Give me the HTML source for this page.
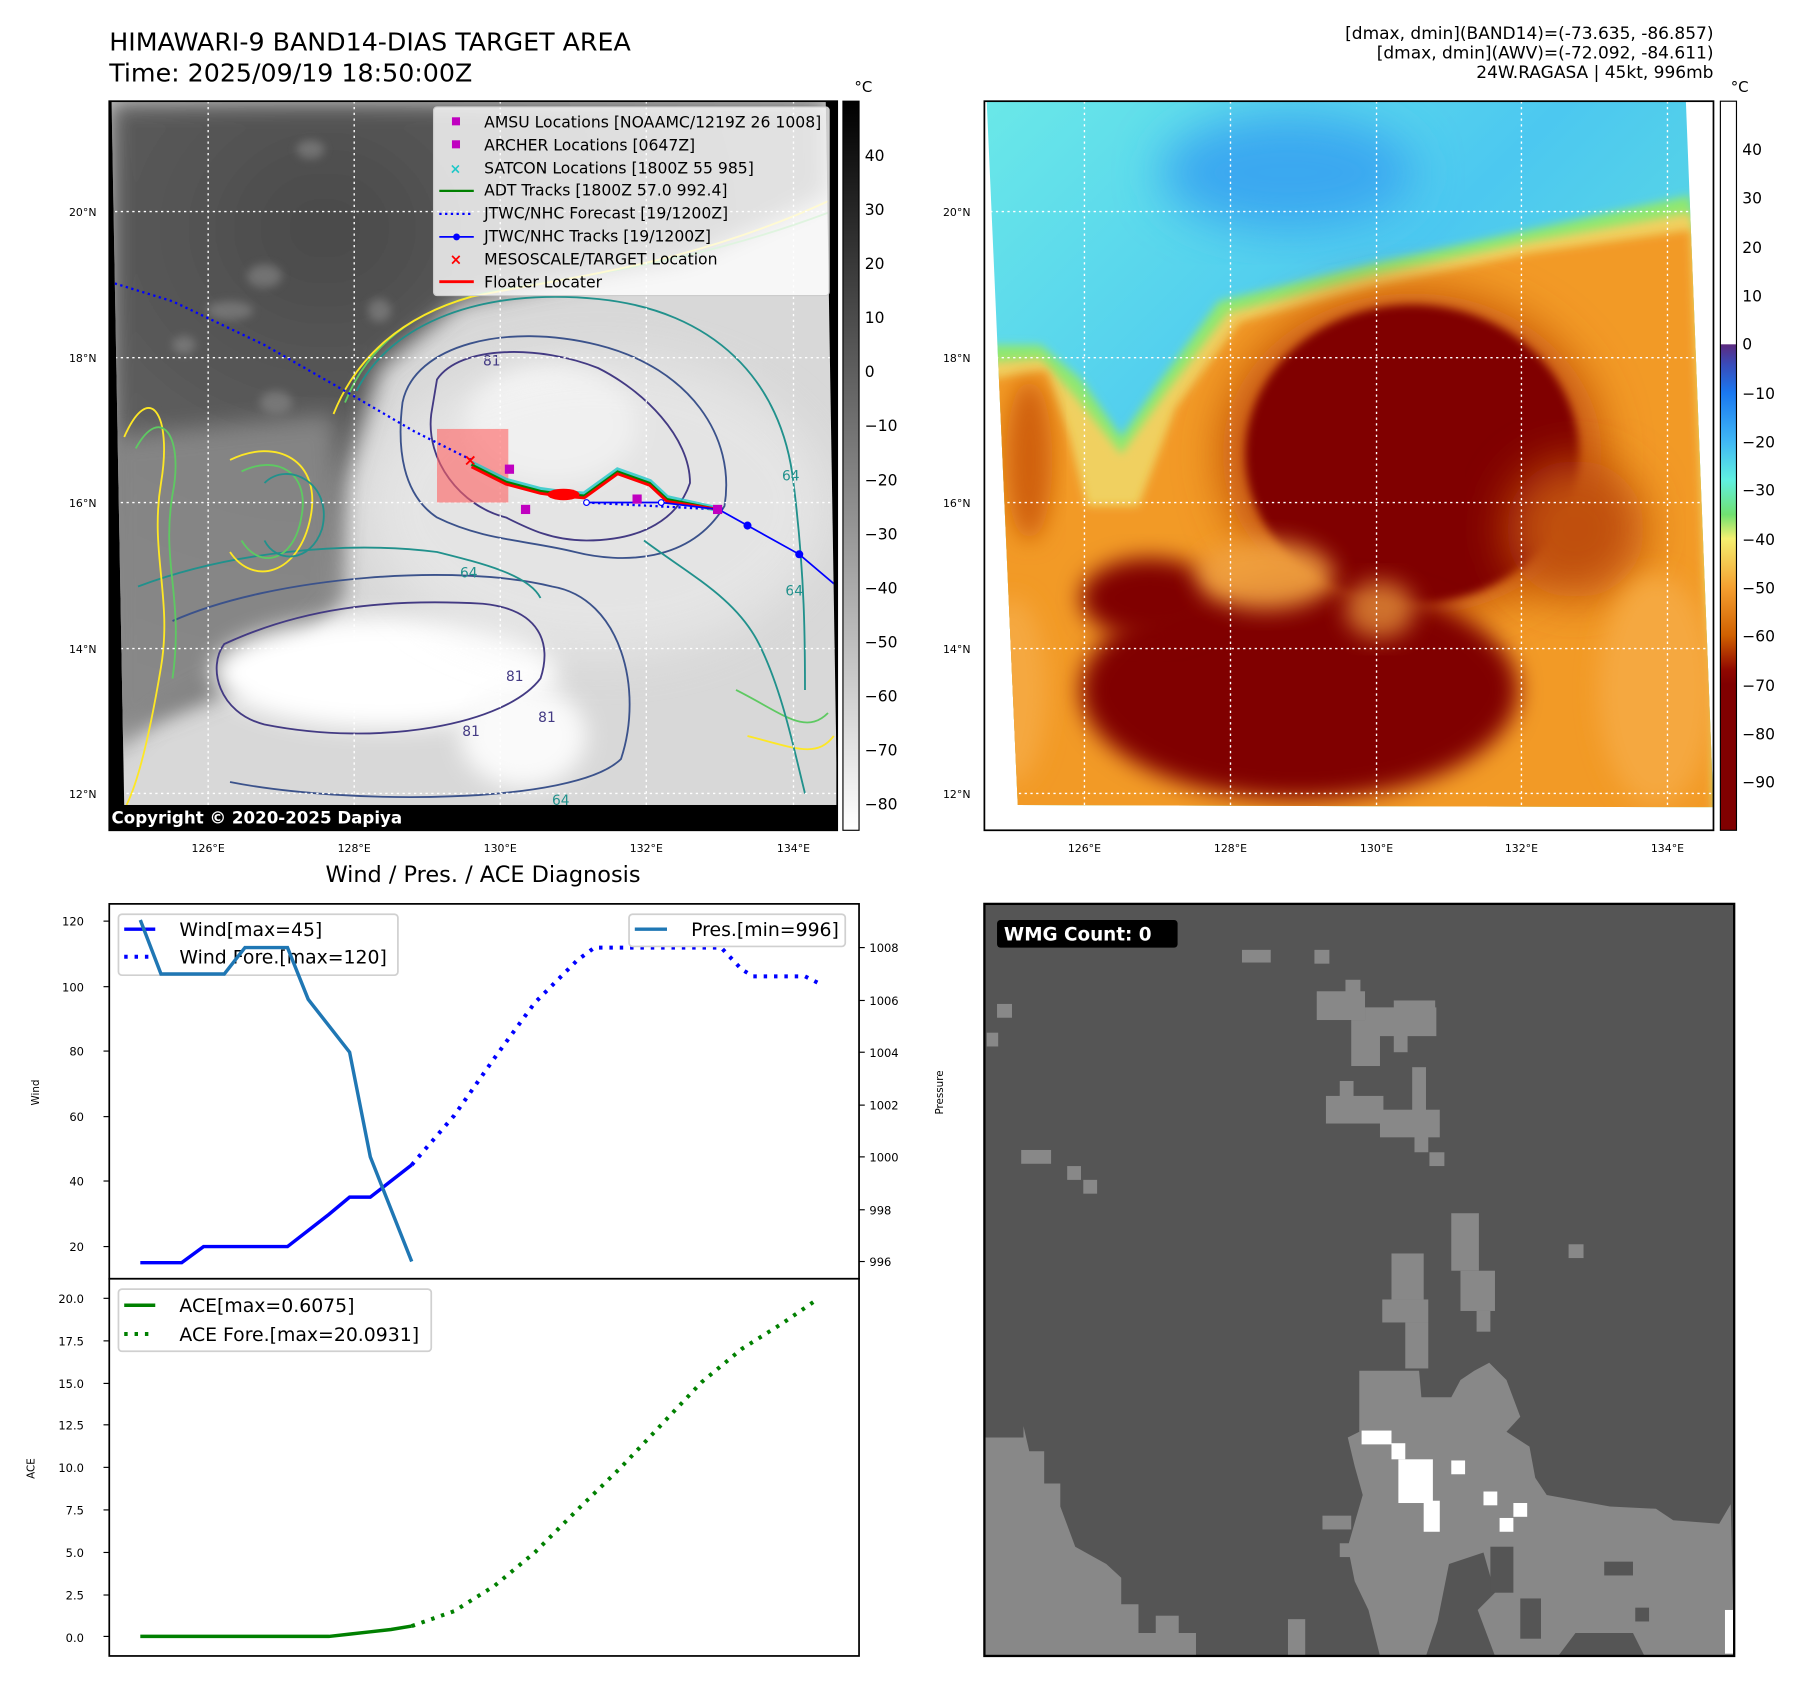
<!DOCTYPE html>
<html><head><meta charset="utf-8"><style>
html,body{margin:0;padding:0;background:#fff;}
svg{display:block;font-family:"DejaVu Sans","Liberation Sans",sans-serif;}
</style></head><body>
<svg width="1801" height="1690" viewBox="0 0 1566.1 1469.6" xmlns="http://www.w3.org/2000/svg">
<defs>
<filter id="b4" x="-20%" y="-20%" width="140%" height="140%"><feGaussianBlur stdDeviation="4"/></filter>
<filter id="b10" x="-30%" y="-30%" width="160%" height="160%"><feGaussianBlur stdDeviation="10"/></filter>
<filter id="b20" x="-30%" y="-30%" width="160%" height="160%"><feGaussianBlur stdDeviation="20"/></filter>
<clipPath id="lc"><polygon points="97,88 718,88 728,700 108,700"/></clipPath>
<clipPath id="rc"><polygon points="858,88 1466,88 1490,702 885,700"/></clipPath>
<linearGradient id="gcb" x1="0" y1="0" x2="0" y2="1"><stop offset="0" stop-color="#000"/><stop offset="1" stop-color="#fff"/></linearGradient>
<linearGradient id="rcb" x1="0" y1="0" x2="0" y2="1">
<stop offset="0" stop-color="#fff"/><stop offset="0.333" stop-color="#fff"/>
<stop offset="0.334" stop-color="#5c2a80"/><stop offset="0.36" stop-color="#3a4ab8"/>
<stop offset="0.40" stop-color="#1a78f0"/><stop offset="0.467" stop-color="#40b8f5"/>
<stop offset="0.52" stop-color="#60f0e0"/><stop offset="0.567" stop-color="#70e070"/>
<stop offset="0.60" stop-color="#f5f070"/><stop offset="0.667" stop-color="#f5a030"/>
<stop offset="0.733" stop-color="#d06000"/><stop offset="0.78" stop-color="#900800"/>
<stop offset="0.8" stop-color="#800000"/><stop offset="1" stop-color="#800000"/>
</linearGradient>
<linearGradient id="sky" x1="0" y1="0" x2="1" y2="1"><stop offset="0" stop-color="#6ae8e8"/><stop offset="0.4" stop-color="#4cc8f0"/><stop offset="1" stop-color="#70f0d0"/></linearGradient>
<radialGradient id="darkg" cx="0.3" cy="0.2" r="0.9"><stop offset="0" stop-color="#4a4a4a"/><stop offset="1" stop-color="#777"/></radialGradient>
</defs>

<text x="95" y="44" font-size="22">HIMAWARI-9 BAND14-DIAS TARGET AREA</text>
<text x="95" y="71" font-size="22">Time: 2025/09/19 18:50:00Z</text>
<g font-size="14.8" text-anchor="end">
<text x="1490" y="34">[dmax, dmin](BAND14)=(-73.635, -86.857)</text>
<text x="1490" y="51">[dmax, dmin](AWV)=(-72.092, -84.611)</text>
<text x="1490" y="68">24W.RAGASA | 45kt, 996mb</text>
</g>

<!-- LEFT MAP -->
<rect x="95" y="88" width="633" height="634" fill="#000"/>
<g clip-path="url(#lc)">
<rect x="95" y="88" width="633" height="634" fill="#d8d8d8"/>
<path d="M95,88 L720,88 L720,170 L600,225 L480,245 L400,262 L330,320 L300,420 L290,520 L260,560 L200,600 L95,640 Z" fill="url(#darkg)" filter="url(#b10)"/>
<path d="M95,380 L290,360 L300,520 L260,560 L140,620 L95,660 Z" fill="#8e8e8e" filter="url(#b10)" opacity="0.8"/>
<g fill="#8a8a8a" opacity="0.6" filter="url(#b4)">
<ellipse cx="270" cy="130" rx="12" ry="8"/><ellipse cx="230" cy="240" rx="15" ry="10"/><ellipse cx="200" cy="270" rx="20" ry="8"/><ellipse cx="240" cy="350" rx="14" ry="10"/><ellipse cx="160" cy="300" rx="10" ry="8"/><ellipse cx="330" cy="270" rx="10" ry="10"/>
</g>
<ellipse cx="480" cy="370" rx="75" ry="50" fill="#fff" filter="url(#b10)"/>
<ellipse cx="335" cy="585" rx="150" ry="48" fill="#fff" filter="url(#b10)"/>
<ellipse cx="455" cy="640" rx="55" ry="45" fill="#fafafa" filter="url(#b10)"/>
<ellipse cx="520" cy="440" rx="200" ry="130" fill="#eaeaea" filter="url(#b20)" opacity="0.7"/>
<g fill="none" stroke-width="1.6">
<path d="M380,330 C400,300 470,300 520,320 C560,340 600,380 600,420 C590,450 560,470 510,470 C480,470 460,460 440,450 C400,440 370,400 375,360 Z" stroke="#433a83"/>
<path d="M350,350 C360,300 440,280 520,300 C600,320 640,380 630,440 C600,490 540,490 500,480 C460,470 420,470 380,450 C350,430 345,390 350,350 Z" stroke="#3b528b"/>
<path d="M310,340 C340,280 420,250 520,260 C620,270 680,330 690,420 C700,500 700,560 700,600" stroke="#21918c"/>
<path d="M300,350 C320,300 360,270 420,255 C500,240 600,230 720,185" stroke="#5ec962"/>
<path d="M290,360 C310,310 350,275 410,258 C500,240 600,230 720,175" stroke="#fde725"/>
<path d="M195,560 C260,530 330,520 420,525 C470,530 480,560 470,590 C440,630 330,650 230,630 C190,620 180,580 195,560 Z" stroke="#433a83"/>
<path d="M150,540 C240,500 400,490 480,510 C540,520 560,600 540,660 C500,700 300,700 200,680" stroke="#3b528b"/>
<path d="M120,510 C200,480 300,470 380,480 C420,490 460,500 470,520" stroke="#21918c"/>
<path d="M108,380 C130,330 150,360 140,420 C130,480 150,520 140,580 C130,640 120,680 110,700" stroke="#fde725"/>
<path d="M118,390 C140,350 160,380 150,430 C140,490 160,520 150,590" stroke="#5ec962"/>
<path d="M200,400 C240,380 280,400 270,450 C260,500 220,510 200,480" stroke="#fde725"/>
<path d="M210,410 C240,395 270,410 262,450 C255,490 225,495 210,470" stroke="#5ec962"/>
<path d="M230,420 C250,400 290,420 280,460 C270,490 240,490 230,470" stroke="#21918c"/>
<path d="M640,600 C680,620 700,640 720,620" stroke="#5ec962"/>
<path d="M650,640 C690,650 710,660 725,640" stroke="#fde725"/>
<path d="M560,470 C600,500 640,520 660,560 C680,600 690,650 700,690" stroke="#21918c"/>
</g>
<g font-size="12" fill="#433a83"><text x="420" y="318">81</text><text x="440" y="592">81</text><text x="402" y="640">81</text><text x="468" y="628">81</text></g>
<g font-size="12" fill="#21918c"><text x="400" y="502">64</text><text x="680" y="418">64</text><text x="683" y="518">64</text><text x="480" y="700">64</text></g>
<g stroke="#fff" stroke-width="1.2" stroke-dasharray="2,3">
<line x1="95" y1="184" x2="728" y2="184"/><line x1="95" y1="311" x2="728" y2="311"/><line x1="95" y1="437" x2="728" y2="437"/><line x1="95" y1="564" x2="728" y2="564"/><line x1="95" y1="690" x2="728" y2="690"/>
<line x1="181" y1="88" x2="181" y2="722"/><line x1="308" y1="88" x2="308" y2="722"/><line x1="435" y1="88" x2="435" y2="722"/><line x1="562" y1="88" x2="562" y2="722"/><line x1="690" y1="88" x2="690" y2="722"/>
</g>
<rect x="380" y="373" width="62" height="64" fill="#ff6060" opacity="0.6"/>
<polyline points="95,245 150,262 230,300 300,340 360,375 410,400" fill="none" stroke="#0000ff" stroke-width="2" stroke-dasharray="2,3"/>
<polyline points="510,437 625,443" fill="none" stroke="#0000ff" stroke-width="2" stroke-dasharray="2,3"/>
<polyline points="410,403 440,418 470,426 485,428 508,430 537,409 565,419 580,433 625,443" fill="none" stroke="#20c8c8" stroke-width="5" opacity="0.8"/>
<polyline points="410,404 440,419 470,427 485,429 508,431 537,410 565,420 580,434 625,443" fill="none" stroke="#008000" stroke-width="2"/>
<polyline points="410,406 440,421 470,429 485,431 508,433 537,412 565,422 580,436 625,443" fill="none" stroke="#ff0000" stroke-width="2.5"/>
<ellipse cx="490" cy="430" rx="14" ry="5" fill="#ff0000"/>
<polyline points="510,437 575,437 625,443 650,457 695,482 728,510" fill="none" stroke="#0000ff" stroke-width="1.5"/>
<g fill="#0000ff"><circle cx="625" cy="443" r="3.5"/><circle cx="650" cy="457" r="3.5"/><circle cx="695" cy="482" r="3.5"/></g>
<g fill="#fff" stroke="#0000ff"><circle cx="510" cy="437" r="2.5"/><circle cx="575" cy="437" r="2.5"/></g>
<g fill="#c000c0"><rect x="439" y="404" width="8" height="8"/><rect x="453" y="439" width="8" height="8"/><rect x="550" y="430" width="8" height="8"/><rect x="620" y="439" width="8" height="8"/></g>
<text x="403" y="405" font-size="14" fill="#ff0000" font-weight="bold">×</text>
</g>
<rect x="95" y="700" width="633" height="22" fill="#000"/>
<text x="97" y="716" font-size="14.5" font-weight="bold" fill="#fff">Copyright © 2020-2025 Dapiya</text>
<rect x="95" y="88" width="633" height="634" fill="none" stroke="#000" stroke-width="1.5"/>
<rect x="377" y="93" width="344" height="164" rx="3" fill="#fff" fill-opacity="0.8" stroke="#ccc"/>
<g font-size="13.6">
<rect x="393" y="102" width="7" height="7" fill="#c000c0"/><text x="421" y="111">AMSU Locations [NOAAMC/1219Z 26 1008]</text>
<rect x="393" y="122" width="7" height="7" fill="#c000c0"/><text x="421" y="131">ARCHER Locations [0647Z]</text>
<text x="391" y="151" fill="#20c8c8" font-size="12" font-weight="bold">×</text><text x="421" y="151">SATCON Locations [1800Z 55 985]</text>
<line x1="382" y1="166" x2="412" y2="166" stroke="#008000" stroke-width="2"/><text x="421" y="170">ADT Tracks [1800Z 57.0 992.4]</text>
<line x1="382" y1="186" x2="412" y2="186" stroke="#0000ff" stroke-width="2" stroke-dasharray="2,3"/><text x="421" y="190">JTWC/NHC Forecast [19/1200Z]</text>
<line x1="382" y1="206" x2="412" y2="206" stroke="#0000ff" stroke-width="1.5"/><circle cx="397" cy="206" r="3" fill="#0000ff"/><text x="421" y="210">JTWC/NHC Tracks [19/1200Z]</text>
<text x="391" y="230" fill="#ff0000" font-size="13" font-weight="bold">×</text><text x="421" y="230">MESOSCALE/TARGET Location</text>
<line x1="382" y1="245" x2="412" y2="245" stroke="#ff0000" stroke-width="2.5"/><text x="421" y="250">Floater Locater</text>
</g>
<rect x="733" y="88" width="14" height="634" fill="url(#gcb)" stroke="#000" stroke-width="1"/>
<text x="743" y="80" font-size="13">°C</text>
<g font-size="13.5">
<text x="752" y="140">40</text><text x="752" y="187">30</text><text x="752" y="234">20</text><text x="752" y="281">10</text><text x="752" y="328">0</text>
<text x="752" y="375">−10</text><text x="752" y="422">−20</text><text x="752" y="469">−30</text><text x="752" y="516">−40</text><text x="752" y="563">−50</text><text x="752" y="610">−60</text><text x="752" y="657">−70</text><text x="752" y="704">−80</text>
</g>
<g font-size="9.5">
<text x="60" y="188">20°N</text><text x="60" y="315">18°N</text><text x="60" y="441">16°N</text><text x="60" y="568">14°N</text><text x="60" y="694">12°N</text>
<g text-anchor="middle"><text x="181" y="741">126°E</text><text x="308" y="741">128°E</text><text x="435" y="741">130°E</text><text x="562" y="741">132°E</text><text x="690" y="741">134°E</text></g>
</g>

<!-- RIGHT MAP -->
<g clip-path="url(#rc)">
<rect x="856" y="88" width="634" height="634" fill="url(#sky)"/>
<ellipse cx="1120" cy="150" rx="110" ry="50" fill="#3aa8f0" filter="url(#b20)"/>
<path d="M858,300 L905,300 L940,330 L975,380 L1010,330 L1060,262 L1200,228 L1330,200 L1470,170 L1490,300 L1490,720 L858,720 Z" fill="#90e870" filter="url(#b4)"/>
<path d="M858,315 L905,312 L935,345 L975,395 L1015,340 L1068,272 L1200,238 L1330,210 L1470,185 L1490,300 L1490,720 L858,720 Z" fill="#f0d060" filter="url(#b4)"/>
<path d="M858,330 L910,322 L930,380 L945,440 L990,440 L1022,355 L1078,280 L1200,248 L1330,220 L1470,200 L1490,720 L858,720 Z" fill="#f29a25" filter="url(#b4)"/>
<ellipse cx="895" cy="400" rx="20" ry="70" fill="#d06010" filter="url(#b10)"/>
<ellipse cx="1228" cy="395" rx="165" ry="140" fill="#c25008" filter="url(#b20)"/>
<ellipse cx="1228" cy="395" rx="145" ry="130" fill="#800000" filter="url(#b4)"/>
<ellipse cx="1130" cy="600" rx="190" ry="95" fill="#800000" filter="url(#b10)"/>
<ellipse cx="1000" cy="520" rx="60" ry="35" fill="#800000" filter="url(#b10)"/>
<ellipse cx="1370" cy="460" rx="60" ry="60" fill="#c05010" filter="url(#b20)"/>
<ellipse cx="1100" cy="500" rx="60" ry="30" fill="#f0a040" filter="url(#b10)" opacity="0.9"/>
<ellipse cx="1200" cy="530" rx="30" ry="25" fill="#f0a040" filter="url(#b10)" opacity="0.7"/>
<ellipse cx="880" cy="600" rx="30" ry="80" fill="#f5a840" filter="url(#b10)"/>
<ellipse cx="1440" cy="600" rx="50" ry="100" fill="#f5a840" filter="url(#b10)"/>
<g stroke="#fff" stroke-width="1.2" stroke-dasharray="2,3">
<line x1="856" y1="184" x2="1490" y2="184"/><line x1="856" y1="311" x2="1490" y2="311"/><line x1="856" y1="437" x2="1490" y2="437"/><line x1="856" y1="564" x2="1490" y2="564"/><line x1="856" y1="690" x2="1490" y2="690"/>
<line x1="943" y1="88" x2="943" y2="722"/><line x1="1070" y1="88" x2="1070" y2="722"/><line x1="1197" y1="88" x2="1197" y2="722"/><line x1="1323" y1="88" x2="1323" y2="722"/><line x1="1450" y1="88" x2="1450" y2="722"/>
</g>
</g>
<rect x="856" y="88" width="634" height="634" fill="none" stroke="#000" stroke-width="1.5"/>
<rect x="1496" y="88" width="14" height="634" fill="url(#rcb)" stroke="#000" stroke-width="1"/>
<text x="1505" y="80" font-size="13">°C</text>
<g font-size="13.5">
<text x="1515" y="135">40</text><text x="1515" y="177">30</text><text x="1515" y="220">20</text><text x="1515" y="262">10</text><text x="1515" y="304">0</text>
<text x="1515" y="347">−10</text><text x="1515" y="389">−20</text><text x="1515" y="431">−30</text><text x="1515" y="474">−40</text><text x="1515" y="516">−50</text><text x="1515" y="558">−60</text><text x="1515" y="601">−70</text><text x="1515" y="643">−80</text><text x="1515" y="685">−90</text>
</g>
<g font-size="9.5">
<text x="820" y="188">20°N</text><text x="820" y="315">18°N</text><text x="820" y="441">16°N</text><text x="820" y="568">14°N</text><text x="820" y="694">12°N</text>
<g text-anchor="middle"><text x="943" y="741">126°E</text><text x="1070" y="741">128°E</text><text x="1197" y="741">130°E</text><text x="1323" y="741">132°E</text><text x="1450" y="741">134°E</text></g>
</g>

<!-- BOTTOM LEFT CHART -->
<text x="420" y="767" font-size="19.5" text-anchor="middle">Wind / Pres. / ACE Diagnosis</text>
<rect x="95" y="786" width="652" height="326" fill="#fff" stroke="#000" stroke-width="1.5"/>
<rect x="95" y="1112" width="652" height="328" fill="#fff" stroke="#000" stroke-width="1.5"/>
<g font-size="10" text-anchor="end">
<text x="73" y="805">120</text><text x="73" y="862">100</text><text x="73" y="918">80</text><text x="73" y="975">60</text><text x="73" y="1031">40</text><text x="73" y="1088">20</text>
<text x="73" y="1133">20.0</text><text x="73" y="1170">17.5</text><text x="73" y="1207">15.0</text><text x="73" y="1243">12.5</text><text x="73" y="1280">10.0</text><text x="73" y="1317">7.5</text><text x="73" y="1354">5.0</text><text x="73" y="1391">2.5</text><text x="73" y="1428">0.0</text>
</g>
<g stroke="#000" stroke-width="1">
<line x1="90" y1="801" x2="95" y2="801"/><line x1="90" y1="858" x2="95" y2="858"/><line x1="90" y1="914" x2="95" y2="914"/><line x1="90" y1="971" x2="95" y2="971"/><line x1="90" y1="1027" x2="95" y2="1027"/><line x1="90" y1="1084" x2="95" y2="1084"/>
<line x1="90" y1="1129" x2="95" y2="1129"/><line x1="90" y1="1166" x2="95" y2="1166"/><line x1="90" y1="1203" x2="95" y2="1203"/><line x1="90" y1="1239" x2="95" y2="1239"/><line x1="90" y1="1276" x2="95" y2="1276"/><line x1="90" y1="1313" x2="95" y2="1313"/><line x1="90" y1="1350" x2="95" y2="1350"/><line x1="90" y1="1387" x2="95" y2="1387"/><line x1="90" y1="1423" x2="95" y2="1423"/>
<line x1="747" y1="824" x2="752" y2="824"/><line x1="747" y1="870" x2="752" y2="870"/><line x1="747" y1="915" x2="752" y2="915"/><line x1="747" y1="961" x2="752" y2="961"/><line x1="747" y1="1006" x2="752" y2="1006"/><line x1="747" y1="1052" x2="752" y2="1052"/><line x1="747" y1="1097" x2="752" y2="1097"/>
</g>
<g font-size="10">
<text x="756" y="828">1008</text><text x="756" y="874">1006</text><text x="756" y="919">1004</text><text x="756" y="965">1002</text><text x="756" y="1010">1000</text><text x="756" y="1056">998</text><text x="756" y="1101">996</text>
</g>
<text x="34" y="950" font-size="9" transform="rotate(-90 34 950)" text-anchor="middle">Wind</text>
<text x="820" y="950" font-size="9" transform="rotate(-90 820 950)" text-anchor="middle">Pressure</text>
<text x="30" y="1277" font-size="9" transform="rotate(-90 30 1277)" text-anchor="middle">ACE</text>
<rect x="103" y="795" width="243" height="53" rx="3" fill="#fff" stroke="#d0d0d0" stroke-width="1.5"/>
<line x1="108" y1="808" x2="135" y2="808" stroke="#0000ff" stroke-width="3"/>
<line x1="108" y1="832" x2="135" y2="832" stroke="#0000ff" stroke-width="3.5" stroke-dasharray="3,6"/>
<text x="156" y="814" font-size="16.4">Wind[max=45]</text>
<text x="156" y="838" font-size="16.4">Wind Fore.[max=120]</text>
<polyline points="122,1098 158,1098 177,1084 250,1084 268,1070 286,1056 304,1041 322,1041 340,1027 358,1013" fill="none" stroke="#0000ff" stroke-width="3"/>
<polyline points="358,1013 395,970 430,920 465,872 502,835 517,824 627,824 645,843 655,849 700,849 712,855" fill="none" stroke="#0000ff" stroke-width="3.5" stroke-dasharray="3,6"/>
<polyline points="122,800 140,847 195,847 213,824 250,824 268,869 304,915 322,1006 358,1097" fill="none" stroke="#1f77b4" stroke-width="3"/>
<rect x="547" y="795" width="188" height="28" rx="3" fill="#fff" fill-opacity="0.8" stroke="#d0d0d0" stroke-width="1.5"/>
<line x1="552" y1="808" x2="580" y2="808" stroke="#1f77b4" stroke-width="3"/>
<text x="601" y="814" font-size="16.4">Pres.[min=996]</text>
<rect x="103" y="1121" width="272" height="54" rx="3" fill="#fff" stroke="#d0d0d0" stroke-width="1.5"/>
<line x1="108" y1="1135" x2="135" y2="1135" stroke="#008000" stroke-width="3"/>
<line x1="108" y1="1160" x2="135" y2="1160" stroke="#008000" stroke-width="3.5" stroke-dasharray="3,6"/>
<text x="156" y="1141" font-size="16.4">ACE[max=0.6075]</text>
<text x="156" y="1166" font-size="16.4">ACE Fore.[max=20.0931]</text>
<polyline points="122,1423 286,1423 304,1421 322,1419 340,1417 358,1414" fill="none" stroke="#008000" stroke-width="3"/>
<polyline points="358,1414 395,1401 430,1379 465,1350 502,1313 540,1276 575,1239 610,1202 645,1173 680,1151 712,1129" fill="none" stroke="#008000" stroke-width="3.5" stroke-dasharray="3,6"/>

<!-- BOTTOM RIGHT WMG -->
<rect x="856" y="786" width="652" height="654" fill="#555"/>
<g fill="#888">
<path d="M856,1250 L890,1250 L890,1240 L895,1262 L908,1262 L908,1290 L922,1290 L922,1310 L935,1345 L962,1360 L975,1372 L975,1395 L990,1395 L990,1420 L1040,1420 L1040,1440 L856,1440 Z"/>
<path d="M1182,1192 L1234,1192 L1236,1215 L1262,1215 L1270,1200 L1282,1192 L1295,1185 L1310,1200 L1322,1232 L1310,1245 L1330,1258 L1335,1285 L1345,1300 L1400,1310 L1440,1312 L1455,1322 L1495,1325 L1505,1308 L1508,1440 L1430,1440 L1420,1420 L1370,1420 L1355,1440 L1300,1440 L1285,1400 L1300,1385 L1290,1350 L1260,1360 L1250,1410 L1240,1440 L1200,1440 L1190,1400 L1178,1375 L1172,1345 L1185,1300 L1178,1275 L1172,1250 L1182,1245 Z"/>
<rect x="1262" y="1055" width="24" height="50"/><rect x="1270" y="1105" width="30" height="35"/><rect x="1284" y="1140" width="12" height="18"/>
<rect x="1210" y="1090" width="28" height="40"/><rect x="1202" y="1130" width="40" height="20"/><rect x="1222" y="1150" width="20" height="40"/>
<rect x="1145" y="862" width="42" height="25"/><rect x="1170" y="852" width="13" height="12"/><rect x="1187" y="876" width="62" height="25"/><rect x="1175" y="887" width="25" height="40"/><rect x="1212" y="870" width="36" height="10"/><rect x="1212" y="900" width="12" height="15"/>
<rect x="1228" y="928" width="12" height="50"/><rect x="1153" y="953" width="50" height="24"/><rect x="1165" y="940" width="12" height="15"/><rect x="1200" y="965" width="52" height="24"/><rect x="1230" y="988" width="12" height="14"/><rect x="1243" y="1002" width="13" height="12"/>
<rect x="867" y="873" width="13" height="12"/><rect x="858" y="898" width="10" height="12"/><rect x="888" y="1000" width="26" height="12"/><rect x="928" y="1014" width="12" height="12"/><rect x="942" y="1026" width="12" height="12"/>
<rect x="1080" y="826" width="25" height="11"/><rect x="1143" y="826" width="13" height="12"/><rect x="1364" y="1082" width="13" height="12"/>
<rect x="1150" y="1318" width="25" height="12"/><rect x="1165" y="1342" width="12" height="12"/><rect x="1120" y="1408" width="15" height="32"/><rect x="1005" y="1405" width="20" height="35"/>
</g>
<g fill="#555"><rect x="1395" y="1358" width="25" height="12"/><rect x="1296" y="1345" width="20" height="40"/><rect x="1322" y="1390" width="18" height="35"/><rect x="1422" y="1398" width="12" height="12"/></g>
<g fill="#fff">
<rect x="1184" y="1244" width="26" height="12"/><rect x="1210" y="1255" width="12" height="14"/><rect x="1216" y="1269" width="30" height="38"/><rect x="1238" y="1305" width="14" height="27"/>
<rect x="1262" y="1270" width="12" height="12"/><rect x="1290" y="1297" width="12" height="12"/><rect x="1316" y="1307" width="12" height="12"/><rect x="1304" y="1320" width="12" height="12"/><rect x="1500" y="1400" width="8" height="38"/>
</g>
<rect x="856" y="786" width="652" height="654" fill="none" stroke="#000" stroke-width="2"/>
<rect x="867" y="800" width="157" height="24" rx="3" fill="#000"/>
<text x="873" y="818" font-size="16" font-weight="bold" fill="#fff">WMG Count: 0</text>
</svg>
</body></html>
